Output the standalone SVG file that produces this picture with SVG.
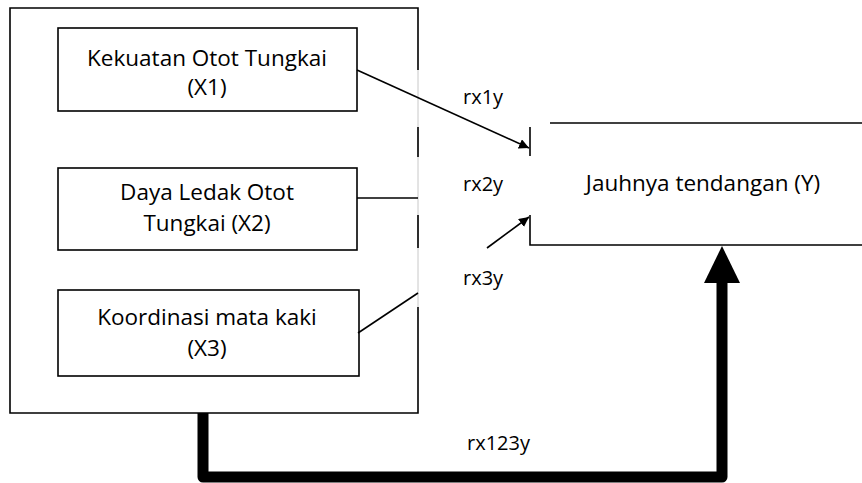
<svg xmlns="http://www.w3.org/2000/svg" width="862" height="483" viewBox="0 0 862 483">
  <defs>
    <style>
      .box { fill: #fff; stroke: #000; stroke-width: 1.6; }
      .ln { fill: none; stroke: #000; stroke-width: 1.6; }
      .gap { fill: none; stroke: #c8c8c8; stroke-width: 1; }
      .thick { fill: none; stroke: #000; stroke-width: 11; stroke-linejoin: round; }
      .t { font-family: "Open Sans", "Liberation Sans", sans-serif; font-size: 22.5px; fill: #000; text-anchor: middle; }
      .r { font-family: "Open Sans", "Liberation Sans", sans-serif; font-size: 20px; fill: #000; }
    </style>
    <marker id="arr" viewBox="0 0 10 10" refX="10" refY="5" markerWidth="10" markerHeight="10" markerUnits="userSpaceOnUse" orient="auto">
      <path d="M0,0 L10,5 L0,10 Z" fill="#000"/>
    </marker>
  </defs>

  <!-- outer frame of the independent variables -->
  <g id="frame">
    <path class="ln" d="M418,70 L418,8 L10,8 L10,413 L418,413 L418,307"/>
    <line class="gap" x1="418" y1="70" x2="418" y2="307"/>
    <line class="ln" x1="418" y1="127" x2="418" y2="157"/>
    <line class="ln" x1="418" y1="215" x2="418" y2="248"/>
  </g>

  <g id="x1">
    <rect class="box" x="58" y="28" width="299" height="83"/>
    <text class="t" x="207" y="66">Kekuatan Otot Tungkai</text>
    <text class="t" x="207" y="95">(X1)</text>
  </g>

  <g id="x2">
    <rect class="box" x="58" y="168" width="299" height="82"/>
    <text class="t" x="207" y="200">Daya Ledak Otot</text>
    <text class="t" x="207" y="231">Tungkai (X2)</text>
  </g>

  <g id="x3">
    <rect class="box" x="58" y="290" width="301" height="86"/>
    <text class="t" x="207" y="325">Koordinasi mata kaki</text>
    <text class="t" x="207" y="356">(X3)</text>
  </g>

  <!-- open box of the dependent variable -->
  <g id="y">
    <line class="ln" x1="550" y1="123" x2="862" y2="123"/>
    <line class="ln" x1="530" y1="127" x2="530" y2="156"/>
    <path class="ln" d="M530,215 L530,245 L862,245"/>
    <text class="t" x="703" y="191">Jauhnya tendangan (Y)</text>
  </g>

  <g id="connectors">
    <line class="ln" x1="357" y1="70" x2="529" y2="148" marker-end="url(#arr)"/>
    <line class="ln" x1="357" y1="198" x2="418" y2="198"/>
    <line class="ln" x1="487" y1="248" x2="529" y2="217" marker-end="url(#arr)"/>
    <line class="ln" x1="358" y1="333" x2="418" y2="293"/>
    <path class="thick" d="M203,413 L203,477 L722,477 L722,280"/>
    <path d="M722,246 L740,283 L704,283 Z" fill="#000"/>
  </g>

  <g id="labels">
    <text class="r" x="463" y="104">rx1y</text>
    <text class="r" x="463" y="191">rx2y</text>
    <text class="r" x="463" y="285">rx3y</text>
    <text class="r" x="467" y="450">rx123y</text>
  </g>
</svg>
